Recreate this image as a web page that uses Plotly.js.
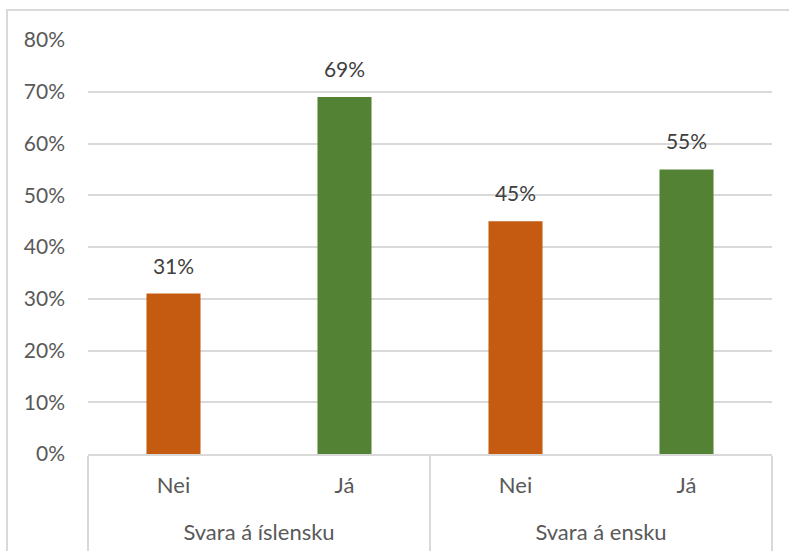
<!DOCTYPE html>
<html>
<head>
<meta charset="utf-8">
<script src="https://cdn.plot.ly/plotly-3.0.1.min.js"></script>
<style>
  html, body { margin: 0; padding: 0; background: #fff; }
  #wrap { position: relative; width: 789px; height: 551px; overflow: hidden; }
  #chart { position: absolute; left: 0; top: 0; width: 789px; height: 551px; }
  #frame { position: absolute; left: 6px; top: 9px; width: 800px; height: 600px;
           border: 2px solid #d9d9d9; box-sizing: border-box; pointer-events: none; }
</style>
</head>
<body>
<div id="wrap">
  <div id="chart"></div>
  <div id="frame"></div>
</div>
<script>
const groups = ["Svara á íslensku", "Svara á íslensku", "Svara á ensku", "Svara á ensku"];
const answers = ["Nei", "Já", "Nei", "Já"];
const values = [0.31, 0.69, 0.45, 0.55];
const barColors = ["#C55A11", "#548235", "#C55A11", "#548235"];
const yTickVals = [0, 0.1, 0.2, 0.3, 0.4, 0.5, 0.6, 0.7, 0.8];
const yTickText = ["0%", "10%", "20%", "30%", "40%", "50%", "60%", "70%", "80%"];

const FONT = "Lato, 'Open Sans', sans-serif";

// a blank second line under each label gives the two label rows their spacing
const pad = s => s + "<br>&nbsp;";
const xCats = [groups.map(pad), answers.map(pad)];

const bars = {
  type: "bar",
  x: xCats,
  y: values,
  marker: { color: barColors, line: { width: 0 } },
  hoverinfo: "skip"
};

const labels = {
  type: "scatter",
  mode: "markers+text",
  x: xCats,
  y: values,
  text: values.map(v => Math.round(v * 100) + "%"),
  textposition: "top center",
  textfont: { family: FONT, size: 21, color: "#404040" },
  marker: { size: 22, color: "rgba(0,0,0,0)" },
  hoverinfo: "skip",
  cliponaxis: false
};

const layout = {
  width: 789,
  height: 551,
  margin: { l: 88, r: 17, t: 40, b: 97 },
  paper_bgcolor: "#ffffff",
  plot_bgcolor: "#ffffff",
  showlegend: false,
  bargap: 0.684,
  font: { family: FONT, size: 21, color: "#595959" },
  xaxis: {
    type: "multicategory",
    showline: true,
    linecolor: "#d9d9d9",
    linewidth: 2,
    showgrid: false,
    zeroline: false,
    showdividers: true,
    dividercolor: "#d9d9d9",
    dividerwidth: 2,
    ticks: "",
    ticklabelstandoff: 11,
    tickfont: { family: FONT, size: 22, color: "#595959" }
  },
  yaxis: {
    range: [0, 0.8],
    tickvals: yTickVals,
    ticktext: yTickText,
    showgrid: true,
    gridcolor: "#d9d9d9",
    gridwidth: 2,
    zeroline: false,
    showline: false,
    ticks: "",
    ticklabelstandoff: 22,
    tickfont: { family: FONT, size: 21, color: "#595959" }
  }
};

Plotly.newPlot("chart", [bars, labels], layout, { displayModeBar: false, staticPlot: true });
</script>
</body>
</html>
